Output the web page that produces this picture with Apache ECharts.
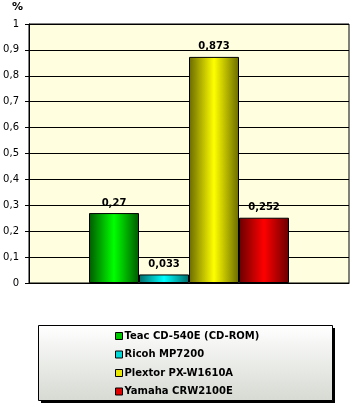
<!DOCTYPE html>
<html><head><meta charset="utf-8">
<script src="https://cdn.jsdelivr.net/npm/echarts@6/dist/echarts.min.js"></script>
<style>html,body{margin:0;padding:0;background:#fff}#c{width:353px;height:406px}</style>
</head><body><div id="c"></div>
<script>
const seriesNames = ['Teac CD-540E (CD-ROM)', 'Ricoh MP7200', 'Plextor PX-W1610A', 'Yamaha CRW2100E'];
const seriesValues = [0.27, 0.033, 0.873, 0.252];
const darkColors = ['#005a00', '#006a6a', '#6a6a00', '#6a0000'];
const brightColors = ['#00ff00', '#00ffff', '#ffff00', '#ff0000'];
const legendColors = ['#00c800', '#00d8d8', '#e8e800', '#e00000'];
const yTicks = { min: 0, max: 1, interval: 0.1 };

const fmt = v => String(Math.round(v * 1000) / 1000).replace('.', ',');
const grad = (d, b) => new echarts.graphic.LinearGradient(0, 0, 1, 0, [
  { offset: 0, color: d }, { offset: 0.5, color: b }, { offset: 1, color: d }]);

const chart = echarts.init(document.getElementById('c'));
chart.setOption({
  animation: false,
  grid: { left: 29, right: 4, top: 24, bottom: 123, show: true, backgroundColor: '#ffffe0', borderColor: '#000', borderWidth: 1 },
  xAxis: { type: 'category', data: [''], axisLine: { lineStyle: { color: '#000' } }, axisTick: { show: false }, axisLabel: { show: false } },
  yAxis: {
    type: 'value', min: yTicks.min, max: yTicks.max, interval: yTicks.interval,
    axisLine: { show: true, lineStyle: { color: '#000' } },
    axisTick: { show: true, length: 4, lineStyle: { color: '#000' } },
    splitLine: { lineStyle: { color: '#000', width: 1 } },
    axisLabel: { formatter: fmt, color: '#000', fontFamily: 'DejaVu Sans', fontSize: 10, margin: 10 }
  },
  legend: {
    orient: 'vertical', left: 115, top: 330, padding: 0, itemWidth: 7, itemHeight: 7, itemGap: 6.5,
    icon: 'rect',
    textStyle: { fontFamily: 'DejaVu Sans', fontWeight: 'bold', fontSize: 10, lineHeight: 12, color: '#000', padding: [0, 0, 0, -3] },
    data: seriesNames.map((n, i) => ({ name: n, itemStyle: { color: legendColors[i], borderColor: '#000', borderWidth: 1 } }))
  },
  graphic: [
    { type: 'text', left: 12, top: 2, style: { text: '%', fontFamily: 'DejaVu Sans', fontWeight: 'bold', fontSize: 11, fill: '#000' } },
    { type: 'rect', z: -2, shape: { x: 41, y: 328, width: 294, height: 75 }, style: { fill: '#000' } },
    { type: 'rect', z: -1, shape: { x: 38.5, y: 325.5, width: 294, height: 75 },
      style: { fill: new echarts.graphic.LinearGradient(0, 0, 0, 1, [{ offset: 0, color: '#ffffff' }, { offset: 1, color: '#d6dad2' }]), stroke: '#000', lineWidth: 1 } }
  ],
  series: seriesNames.map((n, i) => ({
    name: n, type: 'bar', data: [seriesValues[i]], barWidth: 50, barGap: '0%',
    itemStyle: { color: grad(darkColors[i], brightColors[i]), borderColor: '#000', borderWidth: 1 },
    label: { show: true, position: 'top', distance: 5, formatter: p => fmt(p.value), fontFamily: 'DejaVu Sans', fontWeight: 'bold', fontSize: 10, color: '#000' }
  }))
});
</script></body></html>
